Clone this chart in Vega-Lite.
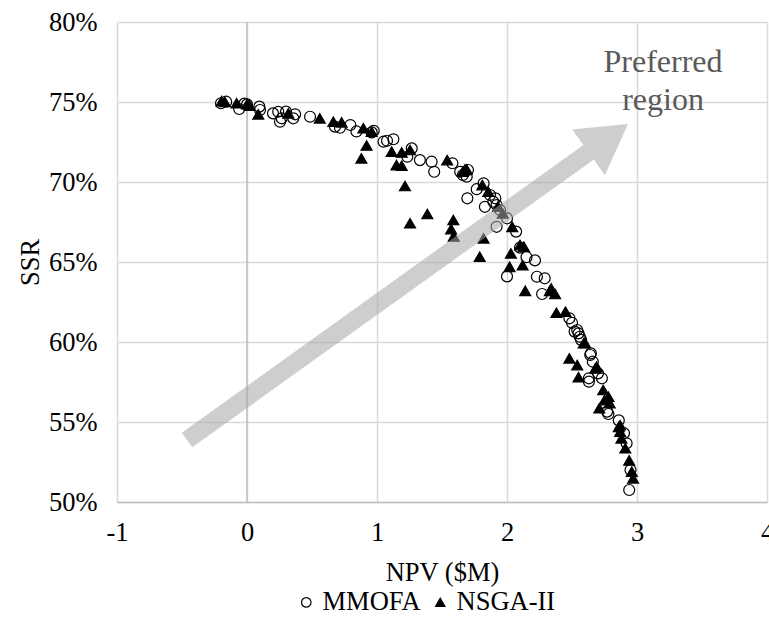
{
  "$schema": "https://vega.github.io/schema/vega-lite/v6.json",
  "width": 650,
  "height": 480,
  "autosize": {"type": "none"},
  "padding": {"left": 117, "top": 22, "right": 2, "bottom": 117},
  "background": "white",
  "config": {
    "view": {"stroke": null},
    "font": "Liberation Serif",
    "axis": {"labelFont": "Liberation Serif", "titleFont": "Liberation Serif", "labelFontSize": 26.5, "titleFontSize": 26.5, "labelColor": "black", "titleColor": "black", "titleFontWeight": "normal", "ticks": false, "gridColor": "#d9d9d9", "gridWidth": 1.5}
  },
  "encoding": {
    "x": {"field": "npv", "type": "quantitative", "scale": {"domain": [-1, 4], "nice": false, "zero": false},
      "axis": {"title": "NPV ($M)", "values": [-1, 0, 1, 2, 3, 4], "labelExpr": "(datum.value < 0 ? '-' : '') + abs(datum.value)", "grid": true, "domain": true, "domainColor": "#bfbfbf", "domainWidth": 1.5, "labelPadding": 17, "titlePadding": 14, "labelFlush": false}},
    "y": {"field": "ssr", "type": "quantitative", "scale": {"domain": [50, 80], "nice": false, "zero": false},
      "axis": {"title": "SSR", "values": [50, 55, 60, 65, 70, 75, 80], "labelExpr": "datum.value + '%'", "grid": true, "domain": false, "labelPadding": 20, "titlePadding": 4, "labelFlush": false}}
  },
  "layer": [
    {
      "data": {"values": [{"npv": 0, "ssr": 50, "ssr2": 80}]},
      "mark": {"type": "rule", "color": "#bfbfbf", "strokeWidth": 1.5},
      "encoding": {"y2": {"field": "ssr2"}}
    },
    {
      "data": {"values": [
        {"s": "MMOFA", "npv": -0.2, "ssr": 74.92},
        {"s": "MMOFA", "npv": -0.16, "ssr": 75.02},
        {"s": "MMOFA", "npv": -0.06, "ssr": 74.56},
        {"s": "MMOFA", "npv": -0.02, "ssr": 74.9},
        {"s": "MMOFA", "npv": 0.0, "ssr": 74.85},
        {"s": "MMOFA", "npv": 0.095, "ssr": 74.71},
        {"s": "MMOFA", "npv": 0.1, "ssr": 74.5},
        {"s": "MMOFA", "npv": 0.2, "ssr": 74.29},
        {"s": "MMOFA", "npv": 0.24, "ssr": 74.39},
        {"s": "MMOFA", "npv": 0.254, "ssr": 73.77},
        {"s": "MMOFA", "npv": 0.267, "ssr": 73.98},
        {"s": "MMOFA", "npv": 0.3, "ssr": 74.4},
        {"s": "MMOFA", "npv": 0.356, "ssr": 73.98},
        {"s": "MMOFA", "npv": 0.37, "ssr": 74.23},
        {"s": "MMOFA", "npv": 0.485, "ssr": 74.08},
        {"s": "MMOFA", "npv": 0.677, "ssr": 73.46},
        {"s": "MMOFA", "npv": 0.715, "ssr": 73.39},
        {"s": "MMOFA", "npv": 0.795, "ssr": 73.56},
        {"s": "MMOFA", "npv": 0.842, "ssr": 73.16},
        {"s": "MMOFA", "npv": 0.959, "ssr": 73.1},
        {"s": "MMOFA", "npv": 0.975, "ssr": 73.2},
        {"s": "MMOFA", "npv": 1.05, "ssr": 72.52},
        {"s": "MMOFA", "npv": 1.077, "ssr": 72.58},
        {"s": "MMOFA", "npv": 1.126, "ssr": 72.67},
        {"s": "MMOFA", "npv": 1.267, "ssr": 72.1},
        {"s": "MMOFA", "npv": 1.233, "ssr": 71.58},
        {"s": "MMOFA", "npv": 1.33, "ssr": 71.37},
        {"s": "MMOFA", "npv": 1.42, "ssr": 71.27},
        {"s": "MMOFA", "npv": 1.44, "ssr": 70.64},
        {"s": "MMOFA", "npv": 1.58, "ssr": 71.17},
        {"s": "MMOFA", "npv": 1.64, "ssr": 70.64},
        {"s": "MMOFA", "npv": 1.66, "ssr": 70.44},
        {"s": "MMOFA", "npv": 1.69, "ssr": 70.33},
        {"s": "MMOFA", "npv": 1.7, "ssr": 70.75},
        {"s": "MMOFA", "npv": 1.695, "ssr": 68.98},
        {"s": "MMOFA", "npv": 1.767, "ssr": 69.55},
        {"s": "MMOFA", "npv": 1.82, "ssr": 69.92},
        {"s": "MMOFA", "npv": 1.83, "ssr": 68.45},
        {"s": "MMOFA", "npv": 1.87, "ssr": 69.19},
        {"s": "MMOFA", "npv": 1.895, "ssr": 68.77},
        {"s": "MMOFA", "npv": 1.91, "ssr": 68.98},
        {"s": "MMOFA", "npv": 1.92, "ssr": 68.56},
        {"s": "MMOFA", "npv": 1.946, "ssr": 68.25},
        {"s": "MMOFA", "npv": 1.92, "ssr": 67.2},
        {"s": "MMOFA", "npv": 2.0, "ssr": 67.73},
        {"s": "MMOFA", "npv": 2.07, "ssr": 66.9},
        {"s": "MMOFA", "npv": 2.1, "ssr": 65.9},
        {"s": "MMOFA", "npv": 2.15, "ssr": 65.3},
        {"s": "MMOFA", "npv": 2.215, "ssr": 65.1},
        {"s": "MMOFA", "npv": 2.0, "ssr": 64.1},
        {"s": "MMOFA", "npv": 2.23, "ssr": 64.08},
        {"s": "MMOFA", "npv": 2.29, "ssr": 63.98},
        {"s": "MMOFA", "npv": 2.27, "ssr": 63.0},
        {"s": "MMOFA", "npv": 2.48, "ssr": 61.48},
        {"s": "MMOFA", "npv": 2.5, "ssr": 61.2},
        {"s": "MMOFA", "npv": 2.52, "ssr": 60.65},
        {"s": "MMOFA", "npv": 2.54, "ssr": 60.75},
        {"s": "MMOFA", "npv": 2.55, "ssr": 60.54},
        {"s": "MMOFA", "npv": 2.56, "ssr": 60.33},
        {"s": "MMOFA", "npv": 2.57, "ssr": 60.13},
        {"s": "MMOFA", "npv": 2.64, "ssr": 59.19},
        {"s": "MMOFA", "npv": 2.645, "ssr": 59.29},
        {"s": "MMOFA", "npv": 2.66, "ssr": 58.77},
        {"s": "MMOFA", "npv": 2.7, "ssr": 58.04},
        {"s": "MMOFA", "npv": 2.73, "ssr": 57.73},
        {"s": "MMOFA", "npv": 2.63, "ssr": 57.73},
        {"s": "MMOFA", "npv": 2.63, "ssr": 57.52},
        {"s": "MMOFA", "npv": 2.77, "ssr": 55.65},
        {"s": "MMOFA", "npv": 2.78, "ssr": 55.5},
        {"s": "MMOFA", "npv": 2.86, "ssr": 55.1},
        {"s": "MMOFA", "npv": 2.9, "ssr": 54.3},
        {"s": "MMOFA", "npv": 2.92, "ssr": 53.67},
        {"s": "MMOFA", "npv": 2.95, "ssr": 52.0},
        {"s": "MMOFA", "npv": 2.94, "ssr": 50.75},
        {"s": "NSGA-II", "npv": -0.195, "ssr": 75.06},
        {"s": "NSGA-II", "npv": -0.17, "ssr": 75.0},
        {"s": "NSGA-II", "npv": -0.08, "ssr": 74.92},
        {"s": "NSGA-II", "npv": 0.0, "ssr": 74.86},
        {"s": "NSGA-II", "npv": 0.02, "ssr": 74.77},
        {"s": "NSGA-II", "npv": 0.087, "ssr": 74.23},
        {"s": "NSGA-II", "npv": 0.318, "ssr": 74.29},
        {"s": "NSGA-II", "npv": 0.56, "ssr": 73.98},
        {"s": "NSGA-II", "npv": 0.664, "ssr": 73.77},
        {"s": "NSGA-II", "npv": 0.728, "ssr": 73.73},
        {"s": "NSGA-II", "npv": 0.895, "ssr": 73.36},
        {"s": "NSGA-II", "npv": 0.92, "ssr": 72.28},
        {"s": "NSGA-II", "npv": 0.88, "ssr": 71.48},
        {"s": "NSGA-II", "npv": 0.959, "ssr": 73.14},
        {"s": "NSGA-II", "npv": 1.113, "ssr": 71.9},
        {"s": "NSGA-II", "npv": 1.19, "ssr": 71.85},
        {"s": "NSGA-II", "npv": 1.254, "ssr": 72.0},
        {"s": "NSGA-II", "npv": 1.15, "ssr": 71.06},
        {"s": "NSGA-II", "npv": 1.19, "ssr": 71.02},
        {"s": "NSGA-II", "npv": 1.215, "ssr": 69.75},
        {"s": "NSGA-II", "npv": 1.254, "ssr": 67.42},
        {"s": "NSGA-II", "npv": 1.387, "ssr": 68.0},
        {"s": "NSGA-II", "npv": 1.54, "ssr": 71.37},
        {"s": "NSGA-II", "npv": 1.587, "ssr": 67.63},
        {"s": "NSGA-II", "npv": 1.57, "ssr": 67.06},
        {"s": "NSGA-II", "npv": 1.59, "ssr": 66.6},
        {"s": "NSGA-II", "npv": 1.66, "ssr": 70.64},
        {"s": "NSGA-II", "npv": 1.677, "ssr": 70.79},
        {"s": "NSGA-II", "npv": 1.69, "ssr": 70.79},
        {"s": "NSGA-II", "npv": 1.81, "ssr": 69.81},
        {"s": "NSGA-II", "npv": 1.856, "ssr": 69.39},
        {"s": "NSGA-II", "npv": 1.93, "ssr": 68.46},
        {"s": "NSGA-II", "npv": 1.967, "ssr": 68.04},
        {"s": "NSGA-II", "npv": 1.82, "ssr": 66.48},
        {"s": "NSGA-II", "npv": 1.79, "ssr": 65.33},
        {"s": "NSGA-II", "npv": 2.04, "ssr": 67.2},
        {"s": "NSGA-II", "npv": 2.1, "ssr": 66.06},
        {"s": "NSGA-II", "npv": 2.13, "ssr": 65.96},
        {"s": "NSGA-II", "npv": 2.03, "ssr": 65.54},
        {"s": "NSGA-II", "npv": 2.02, "ssr": 64.7},
        {"s": "NSGA-II", "npv": 2.12, "ssr": 64.8},
        {"s": "NSGA-II", "npv": 2.14, "ssr": 63.2},
        {"s": "NSGA-II", "npv": 2.33, "ssr": 63.2},
        {"s": "NSGA-II", "npv": 2.37, "ssr": 63.0},
        {"s": "NSGA-II", "npv": 2.34, "ssr": 63.35},
        {"s": "NSGA-II", "npv": 2.38, "ssr": 61.83},
        {"s": "NSGA-II", "npv": 2.45, "ssr": 61.9},
        {"s": "NSGA-II", "npv": 2.59, "ssr": 59.92},
        {"s": "NSGA-II", "npv": 2.6, "ssr": 59.95},
        {"s": "NSGA-II", "npv": 2.48, "ssr": 58.98},
        {"s": "NSGA-II", "npv": 2.54, "ssr": 58.56},
        {"s": "NSGA-II", "npv": 2.55, "ssr": 57.8},
        {"s": "NSGA-II", "npv": 2.68, "ssr": 58.35},
        {"s": "NSGA-II", "npv": 2.69, "ssr": 58.46},
        {"s": "NSGA-II", "npv": 2.74, "ssr": 57.0},
        {"s": "NSGA-II", "npv": 2.75, "ssr": 56.37},
        {"s": "NSGA-II", "npv": 2.78, "ssr": 56.58},
        {"s": "NSGA-II", "npv": 2.79, "ssr": 56.17},
        {"s": "NSGA-II", "npv": 2.71, "ssr": 55.86},
        {"s": "NSGA-II", "npv": 2.87, "ssr": 54.8},
        {"s": "NSGA-II", "npv": 2.86, "ssr": 54.7},
        {"s": "NSGA-II", "npv": 2.87, "ssr": 54.4},
        {"s": "NSGA-II", "npv": 2.88, "ssr": 53.98},
        {"s": "NSGA-II", "npv": 2.91, "ssr": 53.36},
        {"s": "NSGA-II", "npv": 2.94, "ssr": 52.6},
        {"s": "NSGA-II", "npv": 2.96, "ssr": 51.9},
        {"s": "NSGA-II", "npv": 2.97, "ssr": 51.48}
      ]},
      "mark": {"type": "point", "filled": true, "strokeWidth": 1.2, "size": 120, "opacity": 1},
      "encoding": {
        "shape": {"field": "s", "type": "nominal", "scale": {"domain": ["MMOFA", "NSGA-II"], "range": ["circle", "triangle-up"]},
          "legend": {"title": null, "orient": "none", "legendX": 176, "legendY": 567, "padding": 0, "direction": "horizontal", "labelFontSize": 26.5, "labelFont": "Liberation Serif", "labelColor": "black", "symbolSize": 90, "symbolStrokeWidth": 1.2, "labelOffset": 3, "columnPadding": 6}},
        "fill": {"field": "s", "type": "nominal", "scale": {"domain": ["MMOFA", "NSGA-II"], "range": ["transparent", "black"]},
          "legend": {"title": null, "orient": "none", "legendX": 176, "legendY": 567, "padding": 0, "direction": "horizontal", "labelFontSize": 26.5, "labelFont": "Liberation Serif", "labelColor": "black", "symbolSize": 90, "symbolStrokeWidth": 1.2, "labelOffset": 3, "columnPadding": 6}},
        "stroke": {"field": "s", "type": "nominal", "scale": {"domain": ["MMOFA", "NSGA-II"], "range": ["black", "black"]},
          "legend": {"title": null, "orient": "none", "legendX": 176, "legendY": 567, "padding": 0, "direction": "horizontal", "labelFontSize": 26.5, "labelFont": "Liberation Serif", "labelColor": "black", "symbolSize": 90, "symbolStrokeWidth": 1.2, "labelOffset": 3, "columnPadding": 6}}
      }
    },
    {
      "data": {"values": [{"npv": -0.4615, "ssr": 53.875, "npv2": 2.628, "ssr2": 71.86}]},
      "mark": {"type": "rule", "color": "#a6a6a6", "opacity": 0.55, "strokeWidth": 18, "strokeCap": "butt"},
      "encoding": {"x2": {"field": "npv2"}, "y2": {"field": "ssr2"}}
    },
    {
      "data": {"values": [{"npv": 2.779, "ssr": 72.74}]},
      "mark": {"type": "point", "shape": "triangle-up", "filled": true, "color": "#a6a6a6", "opacity": 0.55, "strokeWidth": 0, "size": 3136, "angle": 54.4},
      "encoding": {}
    },
    {
      "data": {"values": [{"npv": 3.2, "ssr": 77.5, "t": "Preferred"}, {"npv": 3.2, "ssr": 75.1, "t": "region"}]},
      "mark": {"type": "text", "font": "Liberation Serif", "fontSize": 32, "color": "#595959", "align": "center", "baseline": "middle"},
      "encoding": {"text": {"field": "t"}}
    }
  ]
}
